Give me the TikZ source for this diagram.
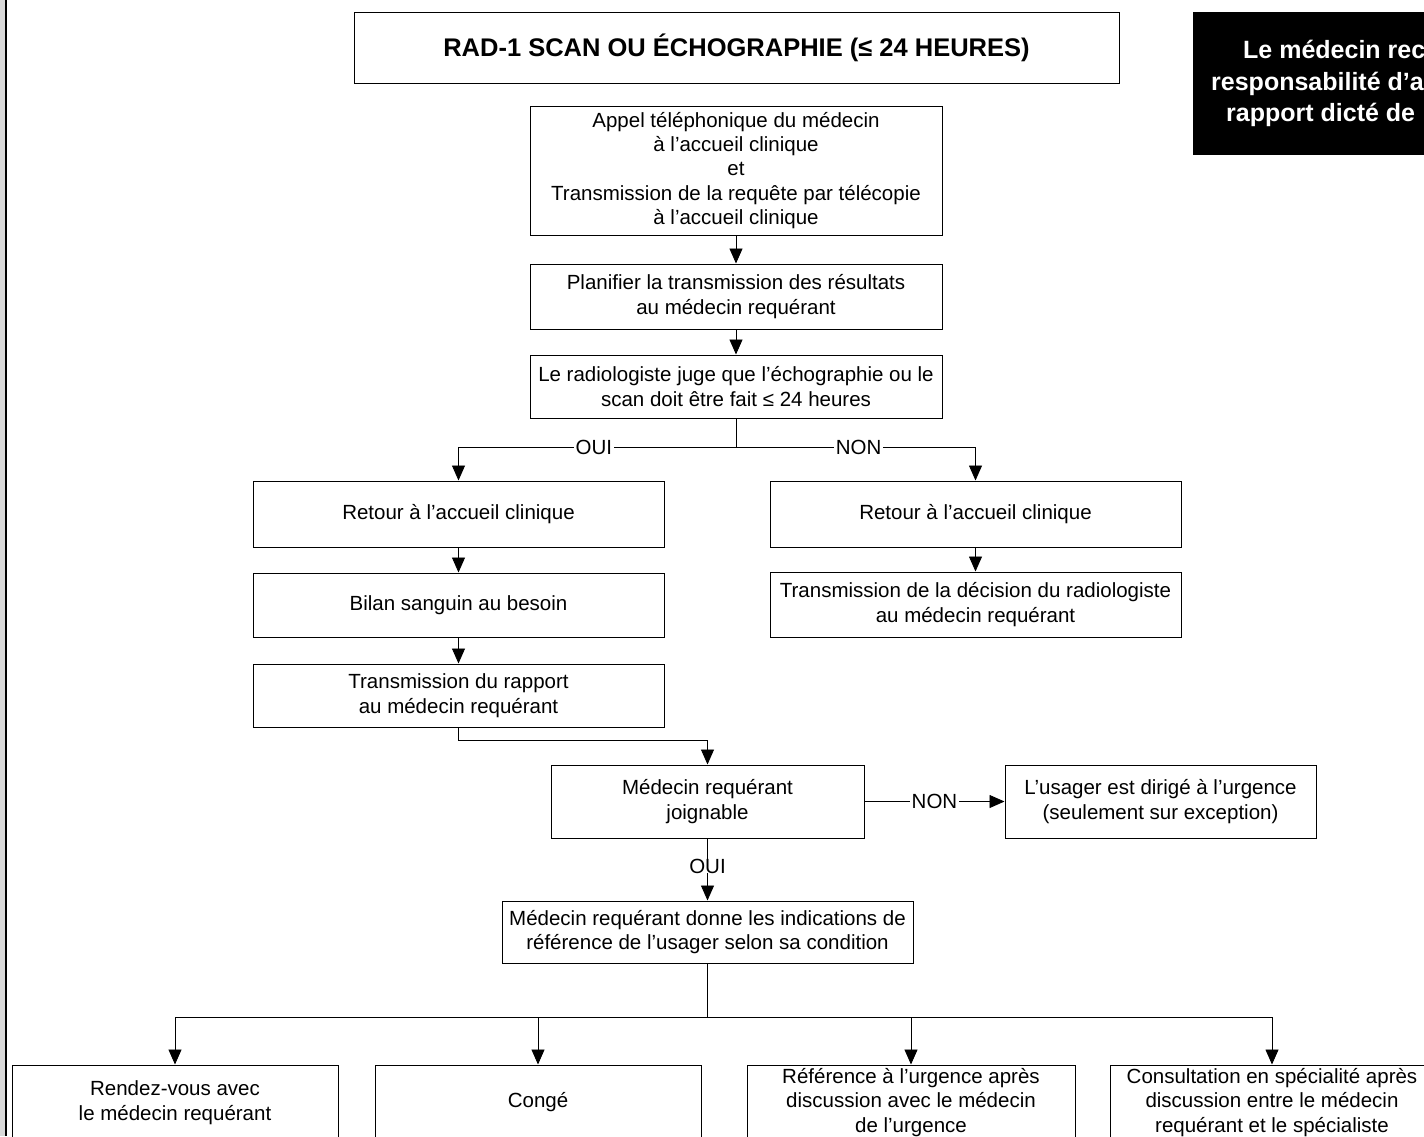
\documentclass[tikz,border=0pt]{standalone}
\usepackage{fontspec}
\setmainfont{Liberation Sans}
\usetikzlibrary{arrows.meta}
\tikzset{
  box/.style={draw, line width=1pt, align=center, inner sep=0pt, font=\fontsize{20.5}{24.4}\selectfont},
  arr/.style={-{Triangle[width=13pt,length=15pt]}, line width=0.9pt},
  plain/.style={line width=0.9pt},
  lbl/.style={fill=white, inner sep=2pt, font=\fontsize{20.5}{24.4}\selectfont},
  wt/.style={text=white, inner sep=0pt, anchor=base west, font=\fontsize{25}{31}\selectfont\bfseries}
}
\begin{document}
\begin{tikzpicture}[x=1pt,y=-1pt]
\useasboundingbox (0,0) rectangle (1424,1136);
\fill[white] (0,0) rectangle (1424,1136);
\fill[gray!30] (0,0) rectangle (5,1136);
\draw[line width=2pt] (6,0) -- (6,1136);

% black note box
\fill[black] (1193,12) rectangle (1520,155);
\node[wt] (n1) at (1243,58) {Le médecin rec};
\node[wt] (n2) at (1211,90) {responsabilité d’a};
\node[wt] (n3) at (1226,121) {rapport dicté de};

% title
\node[box, font=\fontsize{25.5}{30}\selectfont\bfseries, minimum width=765pt, minimum height=71pt] (title) at (736.5,47.5) {RAD-1 SCAN OU ÉCHOGRAPHIE (≤ 24 HEURES)};

\node[box, minimum width=412pt, minimum height=129pt] (b1) at (736,170.5) {Appel téléphonique du médecin\\à l’accueil clinique\\et\\Transmission de la requête par télécopie\\à l’accueil clinique};
\node[box, minimum width=412pt, minimum height=65pt] (b2) at (736,296.5) {Planifier la transmission des résultats\\au médecin requérant};
\node[box, minimum width=412pt, minimum height=63pt] (b3) at (736,386.5) {Le radiologiste juge que l’échographie ou le\\scan doit être fait ≤ 24 heures};

\node[box, minimum width=411pt, minimum height=66pt] (l1) at (458.5,514) {Retour à l’accueil clinique};
\node[box, minimum width=411pt, minimum height=66pt] (r1) at (975.5,514) {Retour à l’accueil clinique};
\node[box, minimum width=411pt, minimum height=64pt] (l2) at (458.5,605) {Bilan sanguin au besoin};
\node[box, minimum width=411pt, minimum height=65pt] (r2) at (975.5,604.5) {Transmission de la décision du radiologiste\\au médecin requérant};
\node[box, minimum width=411pt, minimum height=63pt] (l3) at (458.5,695.5) {Transmission du rapport\\au médecin requérant};

\node[box, minimum width=313pt, minimum height=73pt] (m) at (707.5,801.5) {Médecin requérant\\joignable};
\node[box, minimum width=311pt, minimum height=73pt] (u) at (1160.5,801.5) {L’usager est dirigé à l’urgence\\(seulement sur exception)};
\node[box, minimum width=411pt, minimum height=62pt] (d) at (707.5,932) {Médecin requérant donne les indications de\\référence de l’usager selon sa condition};

\node[box, minimum width=326pt, minimum height=75pt] (e1) at (175,1102.5) {Rendez-vous avec\\le médecin requérant};
\node[box, minimum width=326pt, minimum height=75pt] (e2) at (538,1102.5) {Congé};
\node[box, minimum width=328pt, minimum height=75pt] (e3) at (911,1102.5) {Référence à l’urgence après\\discussion avec le médecin\\de l’urgence};
\node[box, minimum width=324pt, minimum height=75pt] (e4) at (1272,1102.5) {Consultation en spécialité après\\discussion entre le médecin\\requérant et le spécialiste};

% connectors
\draw[arr] (b1.south) -- (b2.north);
\draw[arr] (b2.south) -- (b3.north);
\coordinate (j1) at (736,447);
\draw[plain] (b3.south) -- (j1);
\draw[arr] (j1) -| node[lbl,pos=0.256]{OUI} (l1.north);
\draw[arr] (j1) -| node[lbl,pos=0.256]{NON} (r1.north);
\draw[arr] (l1.south) -- (l2.north);
\draw[arr] (l2.south) -- (l3.north);
\draw[arr] (r1.south) -- (r2.north);
\draw[arr] (l3.south) -- ++(0,13) -| (m.north);
\draw[arr] (m.east) -- node[lbl]{NON} (u.west);
\node[lbl, inner sep=0pt] (ouiM) at (707.5,866) {OUI};
\draw[plain] (m.south) -- (ouiM.north);
\draw[arr] (ouiM.south) -- (d.north);
\coordinate (j2) at (707.5,1017);
\draw[plain] (d.south) -- (j2);
\draw[arr] (j2) -| (e1.north);
\draw[arr] (j2) -| (e2.north);
\draw[arr] (j2) -| (e3.north);
\draw[arr] (j2) -| (e4.north);
\end{tikzpicture}
\end{document}
